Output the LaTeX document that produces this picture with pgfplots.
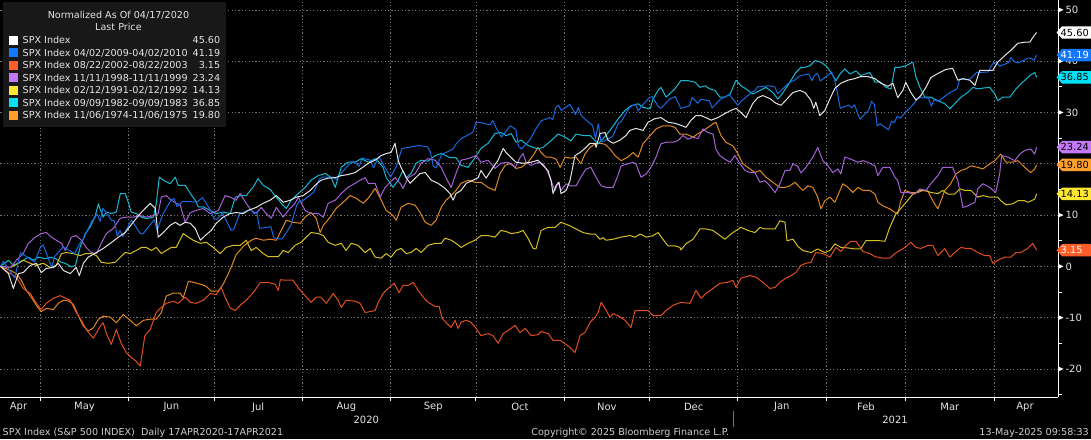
\documentclass[border=0pt]{standalone}
\usepackage{pgfplots}
\pgfplotsset{compat=1.18}
\usetikzlibrary{backgrounds}
\usepackage{fontspec}
\setmainfont{DejaVu Sans}
\definecolor{gridc}{RGB}{115,115,115}
\definecolor{txt}{RGB}{228,228,228}
\definecolor{ftc}{RGB}{205,205,205}
\definecolor{lgbg}{RGB}{24,24,24}
\definecolor{cW}{RGB}{228,228,228}
\definecolor{cB}{RGB}{22,105,225}
\definecolor{cR}{RGB}{225,78,30}
\definecolor{cP}{RGB}{165,98,215}
\definecolor{cY}{RGB}{212,192,32}
\definecolor{cC}{RGB}{22,185,212}
\definecolor{cO}{RGB}{222,136,36}
\definecolor{tW}{RGB}{255,255,255}
\definecolor{tB}{RGB}{20,120,255}
\definecolor{tR}{RGB}{255,92,40}
\definecolor{tP}{RGB}{195,120,245}
\definecolor{tY}{RGB}{255,230,50}
\definecolor{tC}{RGB}{0,225,245}
\definecolor{tO}{RGB}{255,160,45}
\newcommand\fs{\fontsize{9.6pt}{11pt}\selectfont}
\begin{document}
\begin{tikzpicture}[x=1pt,y=1pt,every node/.style={font=\fs}]
\begin{axis}[
  scale only axis, width=1058pt, height=397pt,
  xmin=0, xmax=371.5, ymin=-25.5, ymax=51.85,
  axis x line=bottom, axis y line=right,
  axis line style={white, line width=0.8pt, -},
  xtick={14,45,75,106,137,167,198,228,259,290,318,349},
  xticklabels={},
  ytick={-20,-10,0,10,20,30,40,50},
  yticklabels={-20,-10,0,10,{},30,40,50},
  grid=major,
  major grid style={gridc, line width=0.6pt, dash pattern=on 1.2pt off 2.2pt},
  tick align=outside,
  major tick length=4pt,
  x tick style={white, line width=0.8pt},
  y tick style={draw=none},
  yticklabel style={text=txt, font=\fontsize{10pt}{12pt}\selectfont},
  clip=false,
  every axis plot/.append style={line width=1pt, line join=round},
]
\coordinate (O) at (rel axis cs:0,0);
% 1974-75
\addplot[cO] coordinates {(0,0) (3.5,-0.8) (5.6,-1.4) (7.3,-2.7) (9.1,-4.7) (10.8,-6.0) (12.6,-7.6) (14.3,-8.8) (16.1,-8.2) (18.6,-8.4) (20.3,-7.2) (22.1,-6.6) (23.8,-6.7) (25.6,-7.4) (27.3,-9.6) (29.1,-11.6) (30.8,-12.6) (32.6,-12.0) (34.4,-10.3) (36.1,-9.7) (38.6,-9.9) (40.7,-11.0) (43.1,-9.4) (45.6,-10.5) (47.7,-11.6) (50.2,-10.5) (52.6,-10.3) (54.7,-10.3) (56.5,-9.0) (58.2,-5.8) (60.7,-5.2) (63.1,-5.2) (64.2,-6.1) (66.0,-2.9) (68.4,-3.2) (70.5,-3.5) (72.3,-3.9) (74.0,-4.8) (76.5,-4.8) (78.2,-3.5) (80.7,-0.6) (82.8,2.3) (85.3,3.9) (88.1,5.1) (89.8,5.5) (92.3,5.1) (94.7,5.3) (96.9,5.1) (98.6,7.0) (100.4,9.0) (102.8,8.6) (105.3,8.4) (107.0,9.6) (109.1,10.5) (110.9,9.4) (112.3,6.6) (113.4,8.0) (115.8,9.6) (117.9,11.3) (120.4,12.5) (122.8,13.8) (124.9,13.3) (127.4,12.3) (129.2,13.3) (131.6,15.2) (133.4,13.3) (135.5,10.9) (137.9,9.9) (139.0,9.0) (140.7,11.5) (143.2,12.3) (145.7,11.9) (147.4,10.5) (149.2,8.6) (151.3,8.0) (153.0,9.0) (154.8,11.5) (156.5,12.9) (158.3,13.8) (160.0,14.8) (161.8,16.2) (164.3,16.8) (166.7,16.4) (168.8,16.4) (171.3,15.4) (173.7,14.8) (175.5,18.1) (177.3,19.7) (179.4,20.1) (181.1,19.1) (182.9,19.3) (185.3,20.3) (187.1,21.6) (188.8,23.2) (189.9,22.2) (191.6,21.3) (193.4,21.3) (195.2,20.9) (196.6,19.3) (198.3,21.3) (200.4,21.1) (202.2,21.3) (203.9,20.0) (205.3,21.9) (207.1,23.2) (208.9,23.9) (210.6,24.0) (212.4,23.8) (214.1,22.9) (215.9,21.6) (218.0,20.6) (220.4,21.3) (222.2,22.2) (224.0,21.3) (225.7,23.9) (228.2,25.5) (230.3,26.8) (232.7,27.4) (235.2,27.4) (236.9,27.1) (238.7,25.8) (240.8,25.8) (243.3,25.2) (245.7,26.1) (247.8,26.8) (250.3,27.8) (251.3,28.1) (253.1,25.5) (254.8,24.2) (257.3,23.5) (259.1,21.9) (260.8,20.0) (263.3,19.0) (265.0,18.3) (266.8,18.7) (268.9,17.4) (271.3,16.4) (273.8,15.4) (275.6,15.4) (277.3,15.7) (279.1,16.4) (280.8,15.4) (281.9,14.8) (283.6,15.7) (285.4,15.4) (287.1,13.5) (288.2,11.2) (289.6,12.8) (291.4,13.5) (293.1,12.5) (294.9,14.8) (295.9,16.1) (297.7,15.4) (299.4,14.4) (301.2,15.4) (303.0,14.8) (305.4,14.8) (307.2,14.1) (308.2,12.5) (310.0,11.8) (312.4,11.2) (314.2,10.5) (315.2,10.2) (316.3,12.8) (317.7,14.8) (319.8,14.4) (322.3,14.4) (324.0,14.8) (325.8,14.6) (327.5,12.8) (329.3,11.2) (331.7,14.8) (333.8,16.1) (335.6,18.0) (337.4,18.7) (339.1,19.0) (340.9,19.6) (343.3,19.3) (345.1,19.0) (347.5,20.0) (349.3,20.6) (351.4,21.9) (353.2,20.3) (355.6,20.3) (357.4,20.6) (359.8,19.3) (361.9,18.3) (363.2,18.9) (364,19.8)};
% 1982-83
\addplot[cC] coordinates {(0,0) (2.8,1.2) (4.5,0.2) (8,1.2) (9.8,1.8) (11.5,1.2) (13.3,1.8) (15.7,1.5) (17.5,1.8) (19.3,1.5) (21.4,0.8) (23.1,0.5) (24.9,-0.1) (26.3,0.2) (28,3.8) (29.8,6.4) (31.5,7.7) (33.3,9.9) (34.4,12.2) (35.1,11) (36.1,9.6) (37.2,10.6) (38.9,10.3) (40.7,10.6) (42.1,14.2) (43.8,14.2) (44.9,12.5) (45.9,10.6) (47.7,10.3) (49.5,9.6) (51.2,9.3) (53.7,9.6) (54.7,12.2) (55.8,17.4) (57.2,16.8) (59.6,16.1) (61.4,17.4) (62.4,15.8) (64.9,15.8) (66.7,14.2) (68.4,12.9) (69.5,11.6) (71.2,11.6) (73.7,10.9) (75.8,10.3) (78.2,10.6) (80.7,10.3) (82.5,13.5) (84.2,13.8) (86.3,13.8) (88.8,15.5) (90.5,17.1) (92.3,15.8) (94.7,15.0) (98.6,12.3) (100.4,11.3) (102.1,12.9) (104.6,14.2) (107,15.4) (109.1,16.8) (111.6,17.7) (114.1,18.1) (116.2,17.3) (117.6,15.4) (118.6,17.3) (119.7,19.3) (122.1,20.3) (124.6,20.3) (126.7,21.0) (129.2,20.3) (131.6,21.0) (132.7,20.5) (134.4,19.3) (135.5,17.3) (136.9,16.2) (137.9,15.4) (139.7,16.8) (141.4,18.7) (142.5,17.3) (144.2,18.1) (146,20.1) (147.8,20.7) (150.2,20.5) (152.7,21.6) (154.8,22.0) (157.9,21.2) (160,21.2) (161.8,19.7) (164.3,19.3) (166.7,21.2) (168.8,23.0) (171.3,24.0) (173.7,25.9) (175.8,26.1) (177.6,25.5) (179.4,25.9) (181.1,24.2) (182.9,24.6) (185.3,23.6) (187.1,23.2) (188.8,22.9) (190.6,23.2) (193.4,24.5) (195.9,25.8) (198.3,25.2) (200.4,24.5) (202.2,25.8) (204.6,25.5) (207.1,25.5) (208.9,24.5) (209.9,23.9) (211.7,24.9) (214.1,26.5) (216.9,28.7) (219.4,30.4) (221.5,31.3) (224,31.7) (225.7,31.0) (228.2,30.7) (229.2,32.6) (231,34.3) (232,34.9) (233.8,33.0) (236.9,34.6) (239,36.2) (241.5,36.2) (244,35.9) (245.7,34.9) (247.5,35.2) (249.2,34.6) (251,34.3) (252.7,33.0) (254.5,33.0) (256.3,33.6) (258.4,36.3) (260.1,35.2) (261.9,34.6) (264.3,33.6) (266.8,34.3) (268.9,34.9) (271.3,33.9) (273.1,32.6) (274.9,33.9) (277.3,35.9) (279.4,37.8) (281.2,38.8) (282.6,38.8) (284.3,39.1) (286.1,40.1) (288.2,39.8) (290,39.1) (291.7,37.8) (293.5,36.2) (294.9,37.5) (296.6,38.5) (298.4,37.5) (300.5,38.1) (302.2,37.2) (305.4,37.8) (307.2,35.9) (309.3,35.9) (311,34.9) (312.8,34.6) (314.2,38.8) (315.9,38.8) (318,39.1) (320.5,39.8) (321.6,36.9) (323,34.9) (324.7,33.0) (326.8,33.0) (329.3,32.3) (331.7,31.7) (333.5,30.7) (335.2,31.7) (337.4,33.0) (339.8,33.9) (341.6,34.9) (343.3,34.6) (345.8,34.8) (347.5,34.9) (349.3,33.6) (350.3,32.3) (352.1,33.0) (354.6,33.0) (356.7,34.6) (359.1,35.9) (361.6,37.2) (363.3,37.8) (364,36.85)};
% 1991-92
\addplot[cY] coordinates {(0,0) (3.5,-0.2) (6.3,0.6) (8.0,1.2) (10.5,0.6) (12.6,0.2) (15.0,0.6) (17.5,-0.2) (19.6,0.2) (21.4,2.5) (23.1,2.7) (25.6,2.5) (28.0,2.1) (29.8,2.5) (31.9,2.5) (33.7,2.1) (35.4,0.8) (37.9,0.6) (40.3,0.8) (42.1,1.8) (43.8,2.7) (45.6,2.5) (47.7,3.1) (49.5,3.7) (51.2,3.7) (53.0,3.1) (54.7,3.7) (56.5,2.5) (58.2,3.1) (60.0,3.7) (61.7,3.7) (64.2,6.4) (66.0,5.7) (67.7,5.1) (70.2,4.5) (72.3,4.7) (74.7,3.7) (77.2,2.5) (79.3,3.7) (81.8,4.1) (84.2,4.1) (86.3,5.1) (88.1,3.1) (89.8,3.7) (92.3,2.5) (94.0,1.9) (97.6,1.9) (99.3,3.1) (101.1,2.7) (103.5,4.1) (105.6,4.7) (107.4,5.7) (109.1,6.6) (111.6,6.4) (113.4,6.0) (115.1,4.7) (117.6,4.1) (119.7,4.5) (121.4,3.1) (123.2,4.5) (125.6,4.1) (128.1,2.7) (129.9,3.5) (131.6,1.8) (133.7,1.6) (135.5,2.5) (137.2,1.8) (139.0,3.1) (140.7,3.5) (142.5,2.5) (144.2,2.7) (146.0,3.5) (147.8,2.7) (150.2,4.1) (152.7,4.5) (154.8,4.5) (156.2,5.5) (158.3,5.1) (160.0,4.5) (161.8,3.7) (164.3,4.5) (166.7,5.1) (168.8,6.0) (171.3,6.0) (173.7,5.7) (175.8,7.0) (177.6,6.8) (179.4,6.4) (181.8,6.6) (183.6,7.0) (185.3,5.5) (187.1,3.5) (188.1,3.4) (189.9,7.0) (192.3,7.6) (194.8,7.6) (196.9,8.6) (200.1,7.9) (202.2,7.3) (204.6,6.6) (207.1,6.3) (208.9,6.3) (210.6,5.3) (211.7,5.6) (212.7,5.1) (215.2,5.3) (218.0,5.7) (221.1,6.0) (222.9,5.7) (224.7,6.3) (226.8,5.7) (229.2,6.0) (231.0,6.6) (232.7,5.3) (234.5,4.0) (236.9,4.0) (238.7,3.7) (239.0,3.2) (240.8,4.4) (243.3,5.3) (245.7,7.3) (247.8,7.3) (250.3,7.0) (252.0,6.3) (254.5,5.3) (256.6,6.3) (258.4,7.0) (260.1,7.6) (262.6,7.0) (265.0,6.6) (266.8,7.6) (268.5,7.3) (272.1,7.3) (273.8,8.9) (275.6,8.6) (276.3,5.0) (278.4,5.3) (280.1,3.9) (281.9,3.1) (284.7,2.7) (287.1,3.4) (289.6,2.7) (291.4,3.1) (293.1,4.4) (295.2,3.7) (297.7,3.6) (300.1,3.4) (302.2,3.4) (304.0,5.0) (307.2,5.0) (308.9,5.0) (310.7,4.9) (312.4,7.6) (314.5,10.2) (317.7,12.2) (320.5,14.1) (323.0,14.8) (325.1,14.8) (326.8,14.4) (329.3,14.2) (331.0,14.8) (332.8,14.1) (335.2,14.1) (337.0,15.1) (338.8,14.8) (340.9,14.8) (343.3,13.5) (345.1,13.8) (347.5,13.5) (350.3,13.5) (351.4,12.8) (353.2,12.0) (355.6,12.2) (357.4,12.8) (359.8,12.8) (360.9,12.5) (363.3,13.1) (364,14.13)};
% 1998-99
\addplot[cP] coordinates {(0,0) (3.5,-0.2) (5.6,1.2) (8.0,2.5) (9.8,4.5) (12.2,5.7) (14.3,6.4) (16.1,6.6) (17.9,5.7) (19.6,5.1) (21.4,4.5) (22.8,3.1) (24.9,5.7) (26.6,6.0) (28.4,5.1) (30.1,3.7) (31.9,2.7) (33.7,2.5) (35.4,4.5) (37.2,6.4) (39.6,7.4) (42.1,9.4) (44.2,9.6) (46.6,9.6) (49.1,9.9) (51.2,9.6) (53.7,9.9) (55.4,10.3) (56.5,13.5) (58.2,13.8) (60.0,12.9) (61.7,12.3) (63.1,12.0) (64.9,8.6) (66.7,10.5) (68.8,10.9) (71.2,11.3) (73.7,10.3) (76.5,10.9) (78.9,13.8) (80.7,13.5) (82.8,12.9) (84.2,14.2) (86.3,12.3) (88.1,10.9) (89.8,10.3) (91.6,11.5) (93.3,10.3) (95.1,9.4) (96.9,11.5) (99.3,9.6) (101.1,10.9) (103.5,12.3) (104.6,13.5) (107.0,10.9) (109.1,10.3) (111.6,10.3) (113.4,9.6) (115.1,12.3) (117.6,12.9) (119.7,14.2) (122.1,15.4) (124.6,16.2) (126.3,16.8) (128.1,17.3) (129.2,16.2) (131.6,16.2) (133.4,13.5) (135.1,15.4) (136.9,16.4) (138.6,17.3) (140.4,16.2) (141.4,15.2) (143.2,17.3) (145.7,18.1) (147.8,20.1) (150.2,21.0) (152.7,20.7) (154.8,19.3) (156.5,17.3) (158.3,15.4) (160.0,18.1) (161.8,20.7) (164.3,21.0) (167.1,21.6) (168.8,20.3) (171.3,20.7) (173.7,19.1) (175.8,20.1) (178.3,20.3) (180.8,19.3) (182.5,21.2) (183.6,22.0) (184.6,20.3) (186.4,19.7) (188.8,20.3) (190.6,20.0) (192.3,18.3) (193.4,16.7) (194.8,14.8) (195.9,16.4) (196.9,14.8) (198.7,16.1) (200.4,15.7) (202.2,15.7) (203.9,17.4) (205.7,19.0) (207.4,19.3) (209.2,17.4) (211.0,15.7) (212.7,15.4) (215.2,15.4) (216.9,17.7) (218.0,19.6) (220.4,20.0) (222.2,20.3) (223.2,20.0) (225.0,17.4) (226.8,18.0) (228.5,19.3) (230.3,21.3) (232.0,23.9) (233.8,24.2) (236.2,24.2) (238.0,24.5) (239.7,25.5) (241.5,24.8) (243.3,25.2) (245.0,24.9) (246.8,26.8) (248.5,26.1) (250.3,25.8) (251.3,22.9) (252.7,21.6) (254.5,20.9) (256.3,20.3) (258.0,21.6) (259.8,20.0) (261.5,18.7) (263.3,18.3) (265.0,18.3) (266.8,16.4) (268.5,16.7) (270.3,15.7) (272.1,14.4) (273.8,16.1) (275.6,18.7) (277.3,18.7) (278.4,20.0) (280.1,19.5) (281.2,18.2) (282.9,19.3) (285.4,21.3) (287.1,23.2) (288.9,20.6) (290.7,19.6) (292.4,18.3) (294.2,19.0) (295.2,18.0) (296.6,21.3) (298.7,20.9) (301.2,20.3) (303.0,20.6) (304.7,20.3) (307.2,19.6) (308.2,17.7) (310.0,19.3) (312.4,19.3) (314.2,17.4) (315.2,16.7) (316.3,14.4) (318.7,14.4) (321.2,14.1) (323.0,15.1) (325.1,14.8) (326.8,16.1) (329.3,17.7) (331.0,19.3) (332.8,19.3) (334.5,19.3) (336.3,16.7) (338.1,11.5) (339.8,11.8) (342.3,12.5) (343.3,15.1) (345.1,16.1) (347.5,15.4) (349.6,14.4) (351.0,18.0) (351.7,21.6) (353.9,21.3) (356.3,20.6) (358.1,21.9) (359.8,22.6) (361.9,22.9) (363.3,21.9) (364,23.24)};
% 2002-03
\addplot[cR] coordinates {(0,0) (2.8,-1.2) (5.6,-2.1) (8.0,-4.3) (10.5,-5.3) (12.6,-7.2) (14.3,-8.4) (16.1,-7.2) (18.6,-6.2) (21.0,-5.7) (22.8,-6.2) (24.5,-6.6) (26.3,-8.7) (28.4,-10.5) (30.1,-12.3) (32.6,-14.0) (35.1,-11.6) (36.1,-11.0) (37.2,-13.1) (38.9,-15.2) (40.7,-12.3) (42.4,-15.0) (44.2,-16.8) (45.9,-17.7) (47.7,-18.5) (49.1,-19.4) (50.7,-13.5) (52.6,-12.3) (54.7,-9.0) (56.1,-8.2) (58.2,-7.2) (60.7,-6.8) (62.4,-7.2) (64.9,-6.0) (66.7,-7.0) (68.8,-7.2) (71.2,-6.6) (73.7,-5.3) (75.8,-5.5) (77.5,-4.1) (78.9,-6.0) (80.7,-8.1) (82.5,-8.6) (84.2,-7.6) (86.3,-6.6) (88.8,-5.1) (91.2,-3.2) (94.0,-3.1) (96.5,-3.5) (97.6,-4.7) (98.3,-2.6) (100.4,-2.7) (102.8,-2.7) (104.6,-4.2) (107.0,-5.7) (109.1,-7.0) (110.9,-6.0) (112.6,-6.0) (114.4,-7.2) (116.9,-5.3) (118.6,-6.6) (119.7,-8.0) (121.4,-6.6) (124.6,-6.8) (126.3,-7.2) (128.1,-9.0) (131.6,-8.6) (132.7,-7.0) (134.4,-5.3) (136.2,-4.3) (138.3,-3.3) (140.0,-5.1) (141.4,-3.7) (143.2,-3.7) (145.0,-3.1) (146.7,-4.7) (148.5,-6.0) (150.2,-7.0) (152.7,-7.8) (154.1,-7.8) (155.1,-10.1) (156.5,-10.9) (158.3,-11.9) (159.7,-10.5) (160.7,-12.1) (161.8,-10.9) (163.6,-10.5) (165.3,-10.9) (167.1,-12.1) (168.8,-13.5) (171.3,-13.1) (173.0,-13.5) (174.8,-15.0) (176.6,-13.1) (178.3,-12.5) (180.8,-11.5) (182.5,-12.9) (184.3,-12.1) (186.4,-13.5) (188.8,-13.3) (189.9,-12.7) (192.4,-13.1) (194.1,-14.4) (196.6,-14.4) (200.1,-15.8) (201.8,-16.8) (203.6,-13.5) (205.3,-12.9) (207.1,-10.9) (208.9,-9.9) (209.9,-9.0) (211.0,-7.0) (212.4,-8.2) (214.1,-9.9) (215.2,-9.2) (216.9,-9.6) (219.4,-10.5) (221.5,-11.9) (222.9,-8.6) (224.7,-8.6) (227.5,-8.6) (229.2,-9.6) (232.0,-9.6) (233.8,-8.6) (236.2,-7.6) (239.0,-7.0) (242.2,-7.2) (244.3,-4.7) (246.1,-6.2) (247.8,-5.3) (250.3,-4.3) (252.7,-3.3) (255.5,-3.1) (257.3,-2.7) (258.4,-4.1) (260.1,-2.3) (263.3,-1.8) (265.4,-2.1) (267.8,-3.1) (270.3,-4.3) (272.1,-4.1) (273.8,-3.1) (275.9,-2.3) (277.7,-1.8) (279.4,-1.2) (281.2,0.2) (282.9,0.6) (284.7,0.8) (286.4,2.7) (288.9,2.5) (291.4,1.8) (293.5,3.7) (295.2,2.9) (297.0,4.1) (298.7,4.9) (300.5,4.9) (303.0,2.9) (305.4,2.5) (307.2,1.9) (310.0,1.6) (312.4,1.6) (314.2,2.5) (315.9,3.1) (317.7,3.7) (319.8,4.7) (321.6,3.7) (323.3,3.5) (325.8,4.1) (327.5,4.1) (329.3,2.1) (331.7,3.5) (333.5,1.8) (335.2,2.7) (337.4,3.7) (339.1,3.5) (340.9,3.5) (343.3,2.7) (345.8,2.1) (347.5,2.1) (348.6,0.6) (350.3,1.2) (352.8,1.8) (354.9,1.8) (356.7,2.7) (358.4,2.7) (360.9,3.5) (362.6,4.5) (364,3.15)};
% 2009-10
\addplot[cB] coordinates {(0,0) (1,0.97) (5,-2.25) (7,2.66) (12,0.85) (14,3.7) (15,4.22) (18,-0.24) (19,1.9) (22,3.81) (26,2.5) (28,4.6) (29,5.2) (32,8.73) (34,10.2) (35,8.75) (36,11.36) (39,9.0) (40,8.87) (41,5.94) (42,7.0) (43,5.82) (46,9.03) (49,6.46) (50,6.3) (54,9.1) (55,7.04) (57,10.15) (60,13.0) (61,13.22) (62,11.67) (64,12.67) (69,12.56) (71,13.4) (74,10.7) (75,9.3) (76,9.15) (78,10.4) (81,7.02) (82,7.28) (84,10.3) (88,11.1) (89,10.2) (90,10.65) (91,7.43) (95,7.7) (96,5.6) (97,5.4) (99,5.36) (102,8.0) (104,11.8) (105,12.7) (106,12.7) (109,14.0) (110,14.4) (112,17.0) (113,17.4) (117,17.4) (118,16.9) (120,18.35) (123,20.2) (124,20.5) (126,19.5) (127,21.1) (130,20.7) (131,19.2) (133,21.4) (134,20.3) (137,17.4) (139,19.4) (141,22.98) (147,23.56) (150,23.3) (151,22.3) (152,19.6) (153,19.2) (155,21.8) (159,22.9) (160,23.85) (162,24.97) (166,26.15) (167,28.1) (169,28.0) (172,27.6) (173,28.4) (174,27.1) (176,25.2) (179,27.4) (181,26.7) (182,23.4) (183,22.87) (186,24.7) (188,26.75) (190,28.4) (193,29.0) (194,28.6) (195,30.9) (196,31.4) (197,30.4) (200,31.58) (202,29.6) (203,31.0) (204,29.4) (207,27.9) (208,27.45) (209,24.96) (210,27.77) (211,24.19) (214,25.0) (215,25.3) (217,27.8) (218,28.2) (221,31.0) (223,31.65) (224,30.3) (225,31.1) (228,32.95) (229,33.07) (231,31.2) (232,30.8) (235,32.6) (237,33.1) (239,30.8) (242,31.3) (243,32.9) (245,31.8) (246,32.55) (249,32.3) (250,30.9) (253,32.6) (256,33.5) (257,32.8) (259,31.4) (260,32.1) (263,33.5) (264,34.0) (265,34.3) (266,35.0) (270,35.2) (272,35.0) (273,33.65) (277,35.8) (279,36.3) (280,36.8) (281,37.2) (284,37.5) (285,36.2) (286,37.3) (287,37.6) (288,36.15) (292,37.85) (293,36.4) (294,33.8) (295,30.85) (298,31.45) (299,30.9) (300,31.5) (301,29.97) (302,28.7) (305,30.5) (306,32.2) (307,31.5) (308,27.4) (309,27.8) (312,26.6) (313,28.3) (314,28.0) (315,29.25) (316,28.9) (320,31.2) (321,31.8) (322,32.6) (323,32.9) (326,32.8) (327,31.2) (328,32.5) (329,32.2) (330,32.4) (333,33.7) (334,34.0) (336,34.6) (337,36.5) (340,36.4) (341,36.7) (342,37.3) (343,37.85) (344,37.8) (347,37.9) (348,39.0) (349,39.8) (350,39.7) (351,39.0) (354,39.7) (355,40.7) (356,39.95) (357,39.7) (358,39.8) (361,40.6) (362,40.6) (363,40.15) (364,41.19)};
% 2020-21
\addplot[cW] coordinates {(0,0) (2.8,-1.4) (4.5,-4.3) (6.3,-1.4) (8.0,-1.2) (10.5,0.2) (12.6,0.6) (14.3,-1.2) (16.1,-0.4) (18.6,-0.2) (20.3,0.6) (22.1,-0.8) (24.5,-1.4) (26.6,-0.2) (27.7,-1.8) (29.1,0.6) (30.8,1.8) (33.7,2.7) (36.1,3.5) (38.6,4.5) (41.4,5.7) (43.8,6.6) (46.6,8.6) (49.1,10.3) (51.2,11.5) (52.6,12.3) (54.4,11.3) (55.4,5.7) (57.2,6.6) (59.6,8.0) (61.4,8.6) (63.1,8.0) (64.9,8.6) (66.7,8.4) (68.4,7.4) (70.2,5.1) (71.9,6.0) (74.0,7.0) (75.8,8.4) (78.2,9.6) (80.7,10.3) (82.8,10.5) (85.3,10.3) (87.0,10.9) (89.8,11.5) (92.3,12.3) (94.7,12.9) (96.9,13.8) (99.3,12.5) (101.8,12.9) (103.9,13.5) (106.3,13.8) (108.8,14.8) (110.5,15.8) (112.6,16.8) (115.1,17.2) (117.6,17.3) (119.7,17.7) (122.1,17.9) (124.6,18.3) (126.7,19.1) (129.2,20.1) (131.6,20.7) (133.7,21.6) (135.5,22.0) (137.2,22.2) (138.6,24.0) (139.7,20.7) (140.7,19.3) (142.5,17.3) (143.9,16.2) (145.7,17.2) (147.4,18.1) (149.2,18.3) (151.3,16.8) (153.7,16.2) (156.2,15.2) (157.9,14.2) (159.0,12.9) (160.0,14.2) (161.8,14.8) (163.6,16.2) (166.0,16.8) (167.8,17.3) (168.8,18.7) (170.6,17.2) (172.3,18.7) (174.8,20.7) (176.6,23.0) (177.6,22.2) (179.4,21.2) (181.1,20.3) (183.6,20.1) (186.4,20.3) (188.8,20.7) (192.3,18.7) (193.4,16.8) (194.1,14.2) (195.2,15.8) (196.2,16.4) (196.9,14.2) (198.7,14.8) (200.1,16.8) (201.8,21.6) (203.6,22.2) (205.3,23.0) (207.1,24.0) (208.9,24.0) (209.2,23.2) (210.6,25.9) (212.4,26.1) (213.4,24.6) (215.2,24.0) (217.6,24.6) (219.7,25.5) (221.1,26.5) (223.2,26.9) (225.7,26.5) (227.5,28.1) (229.9,28.8) (232.0,29.0) (234.5,28.1) (236.9,27.9) (239.0,27.5) (240.8,27.1) (242.6,28.5) (244.3,29.4) (246.1,29.4) (247.8,29.0) (249.6,28.5) (252.0,29.0) (254.5,29.8) (256.6,30.4) (258.4,30.8) (260.1,30.0) (261.9,29.0) (264.3,31.8) (266.1,32.9) (267.8,33.3) (270.3,32.7) (272.4,31.8) (274.2,31.4) (275.9,32.4) (278.4,33.9) (280.8,34.3) (282.6,33.9) (284.7,32.4) (285.7,30.8) (286.4,32.0) (287.8,29.4) (289.6,30.4) (291.4,32.7) (293.1,34.7) (295.2,35.7) (297.7,36.3) (300.1,36.6) (302.2,37.0) (304.7,37.0) (307.2,36.6) (309.3,35.7) (311.7,35.1) (313.5,35.7) (315.2,32.9) (317.0,34.3) (318.0,35.9) (319.8,33.9) (321.6,32.4) (323.3,33.3) (325.1,34.9) (326.8,36.8) (329.3,37.6) (332.1,38.4) (334.5,38.6) (336.3,36.3) (338.1,36.6) (340.5,36.3) (342.3,35.3) (344.0,38.2) (346.1,38.2) (348.6,38.2) (350.3,39.8) (352.8,41.1) (354.9,42.1) (357.4,43.5) (359.8,43.7) (361.6,43.7) (362.6,44.6) (364,45.6)};
\end{axis}
\begin{scope}[shift={(O)}, yshift=-42pt]
\useasboundingbox (0,0) rectangle (1091,439);
\begin{scope}[on background layer]
\fill[black] (0,0) rectangle (1091,439);
\end{scope}
% month labels
\foreach \xx/\mm in {18/Apr,84.0/May,170.9/Jun,257.7/Jul,346.0/Aug,432.9/Sep,519.7/Oct,606.6/Nov,693.5/Dec,781.7/Jan,865.8/Feb,949.8/Mar,1025/Apr}{
  \node[text=txt, font=\fontsize{10pt}{12pt}\selectfont] at (\xx,32) {\mm};
}
% right axis decorations
\foreach \v in {-20,-10,...,50}{
  \fill[white] (1058,{172.9+5.1325*\v-2.6}) -- ++(5.5,2.6) -- ++(-5.5,2.6) -- cycle;
}
\foreach \v in {-25,-15,...,45}{
  \draw[white, line width=0.8pt] (1058,{172.9+5.1325*\v}) -- ++(4,0);
}
% value tags
\newcommand\vtag[4]{%
  \fill[#2] (1056.5,#1) -- (1062,#1+6.2) -- (1095,#1+6.2) -- (1095,#1-6.2) -- (1062,#1-6.2) -- cycle;
  \node[anchor=west, inner sep=0pt, text=#3, font=\fontsize{9.8pt}{11pt}\selectfont] at (1060.5,#1) {#4};}
\vtag{406.9}{tW}{black}{45.60}
\vtag{384.3}{tB}{white}{41.19}
\vtag{362.0}{tC}{black}{36.85}
\vtag{292.2}{tP}{black}{23.24}
\vtag{274.5}{tO}{black}{19.80}
\vtag{245.4}{tY}{black}{14.13}
\vtag{189.1}{tR}{white}{3.15}
% legend
\fill[lgbg] (3,312) rectangle (226,437);
\node[text=txt] at (118,424) {Normalized As Of 04/17/2020};
\node[text=txt] at (118,412) {Last Price};
\foreach \yy/\cc/\lab/\val in {399/tW/{SPX Index}/45.60, 386.5/tB/{SPX Index 04/02/2009-04/02/2010}/41.19, 374/tR/{SPX Index 08/22/2002-08/22/2003}/3.15, 361.5/tP/{SPX Index 11/11/1998-11/11/1999}/23.24, 349/tY/{SPX Index 02/12/1991-02/12/1992}/14.13, 336.5/tC/{SPX Index 09/09/1982-09/09/1983}/36.85, 324/tO/{SPX Index 11/06/1974-11/06/1975}/19.80}{
  \fill[\cc] (9,\yy-4.5) rectangle (18,\yy+4.5);
  \node[anchor=west, inner sep=0pt, text=txt] at (22,\yy) {\lab};
  \node[anchor=east, inner sep=0pt, text=txt] at (220,\yy) {\val};
}
% year row and footer
\node[text=txt, font=\fontsize{10pt}{12pt}\selectfont] at (366,19) {2020};
\node[text=txt, font=\fontsize{10pt}{12pt}\selectfont] at (895,19) {2021};
\draw[gridc, line width=0.8pt] (733,28) -- (733,12);
\node[anchor=west, inner sep=0pt, text=ftc] at (2,6) {SPX Index (S\&P 500 INDEX)\ \ Daily 17APR2020-17APR2021};
\node[text=ftc, inner sep=0pt] at (630,6) {Copyright© 2025 Bloomberg Finance L.P.};
\node[anchor=east, inner sep=0pt, text=ftc] at (1089,6) {13-May-2025 09:58:33};
\end{scope}
\end{tikzpicture}
\end{document}
